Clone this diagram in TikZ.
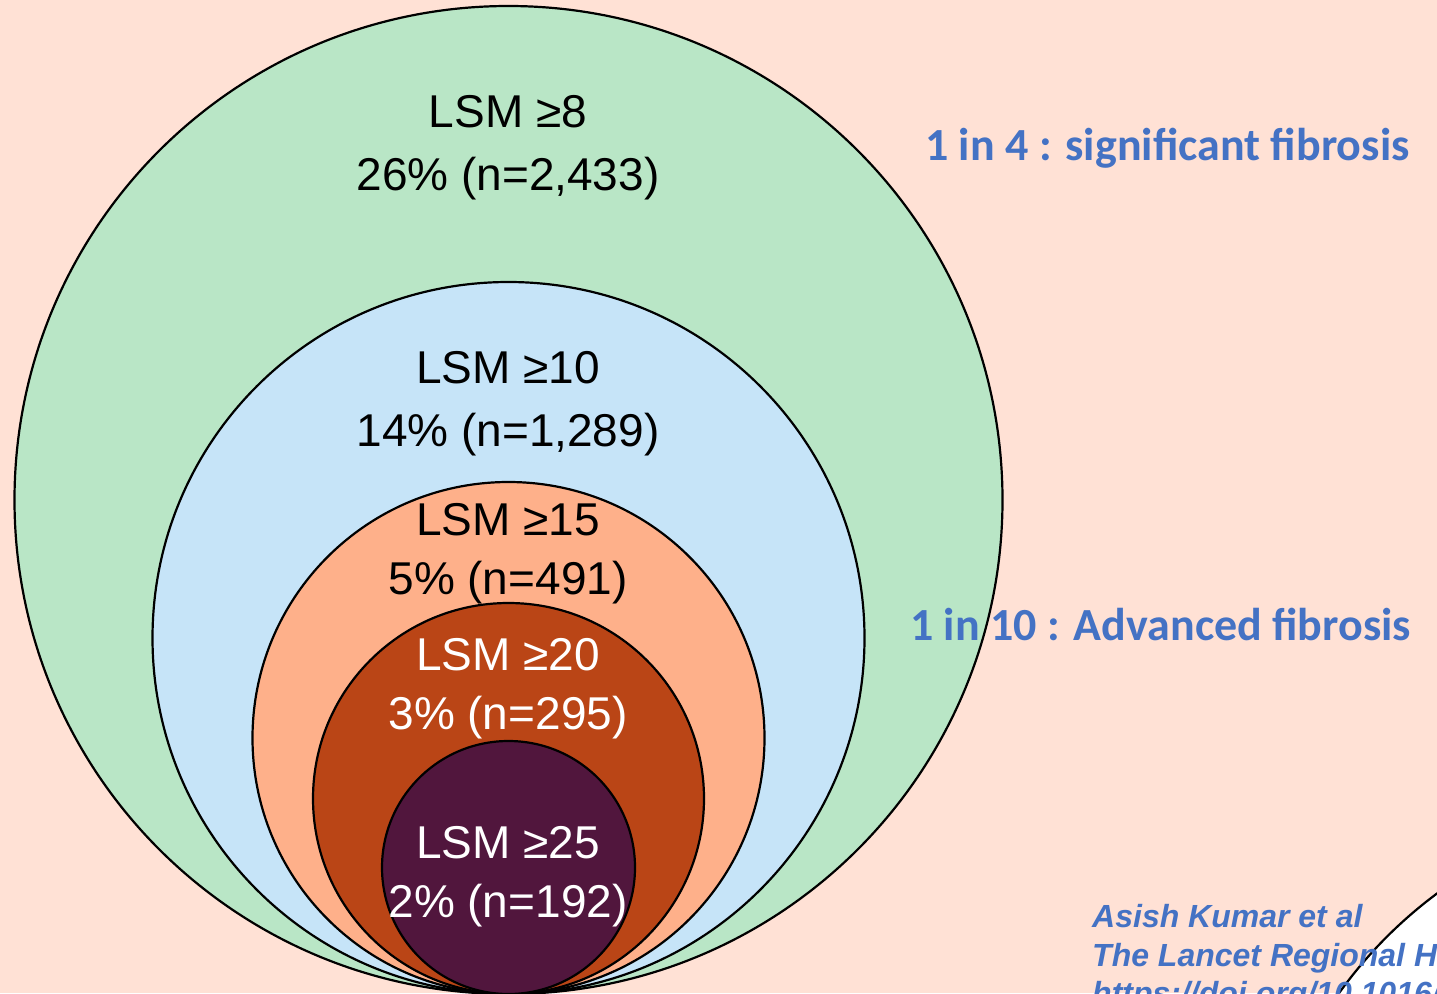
\documentclass[tikz,border=0pt]{standalone}
\usepackage{fontspec}
\setmainfont{Liberation Sans}
\newfontfamily\calib{Carlito}
\definecolor{bgc}{RGB}{255,225,213}
\definecolor{cgreen}{RGB}{185,230,198}
\definecolor{cblue}{RGB}{198,228,248}
\definecolor{clorange}{RGB}{254,176,138}
\definecolor{cdorange}{RGB}{186,69,22}
\definecolor{cpurple}{RGB}{81,22,61}
\definecolor{tblue}{RGB}{68,114,196}
\tikzset{
  ring/.style={circle, draw=black, line width=2.2pt, inner sep=0pt},
  lab/.style={font=\fontsize{46}{46}\selectfont, inner sep=0pt, anchor=base},
  note/.style={font=\calib\bfseries\fontsize{46}{46}\selectfont, text=tblue, inner sep=0pt, anchor=base west},
  cite/.style={font=\bfseries\itshape\fontsize{32}{32}\selectfont, text=tblue, inner sep=0pt, anchor=base west}
}
\begin{document}
\begin{tikzpicture}[x=1pt,y=1pt]
\fill[bgc] (0,0) rectangle (1437,-993);
\useasboundingbox (0,0) rectangle (1437,-993);
\clip (0,0) rectangle (1437,-993);
% white shape at lower right
\node[ring, fill=white, minimum size=900pt] (wc) at (1705,-1255) {};
% nested circles
\node[ring, fill=cgreen, minimum size=988pt] (c8) at (508.5,-500) {};
\node[ring, fill=cblue, minimum size=712pt] (c10) at (508.5,-638) {};
\node[ring, fill=clorange, minimum size=512pt] (c15) at (508.5,-738) {};
\node[ring, fill=cdorange, minimum size=391pt] (c20) at (508.5,-798.5) {};
\node[ring, fill=cpurple, minimum size=253pt] (c25) at (508.5,-867.5) {};
% labels
\node[lab] (l8a) at (508,-127) {LSM ≥8};
\node[lab] (l8b) at (508,-190) {26\% (n=2,433)};
\node[lab] (l10a) at (508,-383) {LSM ≥10};
\node[lab] (l10b) at (508,-446) {14\% (n=1,289)};
\node[lab] (l15a) at (508,-535) {LSM ≥15};
\node[lab] (l15b) at (508,-594) {5\% (n=491)};
\node[lab, text=white] (l20a) at (508,-670) {LSM ≥20};
\node[lab, text=white] (l20b) at (508,-729) {3\% (n=295)};
\node[lab, text=white] (l25a) at (508,-858) {LSM ≥25};
\node[lab, text=white] (l25b) at (508,-917) {2\% (n=192)};
% right notes
\node[note] (n4) at (925,-160) {1 in 4 : significant fibrosis};
\node[note] (n10) at (910,-640) {1 in 10 : Advanced fibrosis};
% citation
\node[cite] (ct1) at (1092,-927) {Asish Kumar et al};
\node[cite] (ct2) at (1092,-966) {The Lancet Regional H};
\node[cite] (ct3) at (1092,-1004) {https://doi.org/10.1016/j};
\end{tikzpicture}
\end{document}
